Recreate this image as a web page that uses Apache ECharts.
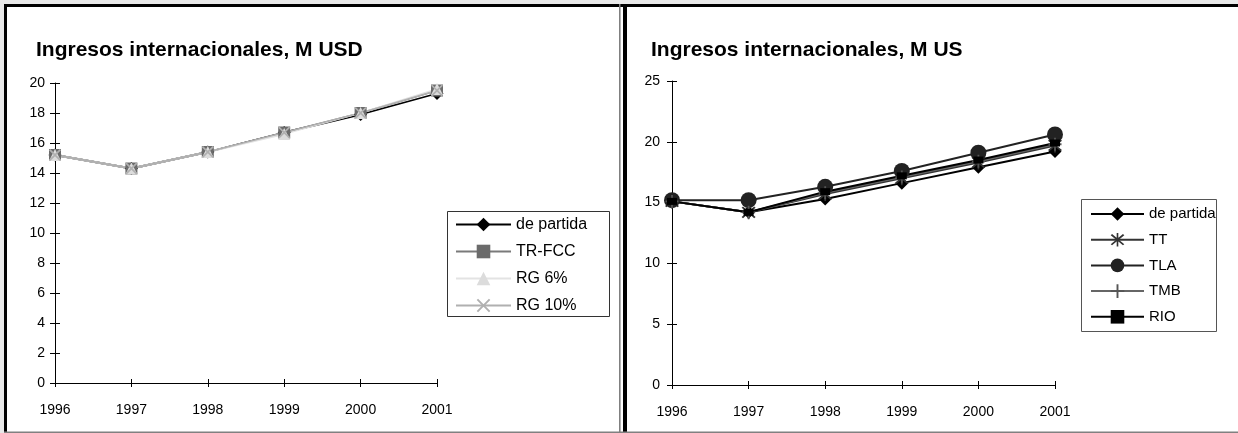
<!DOCTYPE html>
<html>
<head>
<meta charset="utf-8">
<script src="https://cdn.jsdelivr.net/npm/echarts@6/dist/echarts.min.js"></script>
<style>
  html, body { margin: 0; padding: 0; background: #e8e8e8; }
  #main { width: 1238px; height: 433px; }
</style>
</head>
<body>
<div id="main"></div>
<script>
var years = ['1996', '1997', '1998', '1999', '2000', '2001']

// izquierda
var dePartidaA = [15.2, 14.3, 15.4, 16.7, 17.9, 19.3]
var trFcc = [15.2, 14.3, 15.4, 16.7, 18.0, 19.5]
var rg6 = [15.2, 14.3, 15.4, 16.6, 18.0, 19.6]
var rg10 = [15.2, 14.3, 15.4, 16.7, 18.0, 19.5]

// derecha
var dePartidaB = [15.1, 14.2, 15.3, 16.6, 17.9, 19.2]
var tt = [15.1, 14.2, 15.7, 17.0, 18.3, 19.7]
var tla = [15.2, 15.2, 16.3, 17.6, 19.1, 20.6]
var tmb = [15.1, 14.2, 15.8, 17.1, 18.4, 19.8]
var rio = [15.1, 14.2, 15.9, 17.2, 18.5, 19.9]

var font = 'Liberation Sans, Arial, sans-serif'

var xMark = 'path://M1,0 L5,4 L9,0 L10,1 L6,5 L10,9 L9,10 L5,6 L1,10 L0,9 L4,5 L0,1 Z'
var starMark = 'path://M1,1 L5,5 L9,1 L10,2 L6,6 L10,10 L9,11 L5,7 L1,11 L0,10 L4,6 L0,2 Z M4.4,0 H5.6 V12 H4.4 Z'
var plusMark = 'path://M4.3,0 H5.7 V4.3 H10 V5.7 H5.7 V10 H4.3 V5.7 H0 V4.3 H4.3 Z'

function xAxes (grid) {
  return [
    {
      type: 'category', gridIndex: grid, data: years, boundaryGap: false, position: 'bottom',
      axisLine: { lineStyle: { color: '#000', width: 1 } },
      axisTick: { length: 4, interval: 0, lineStyle: { color: '#000' } },
      axisLabel: { interval: 0, color: '#000', fontSize: 14, fontFamily: font, margin: 20 }
    },
    {
      type: 'category', gridIndex: grid, data: years, boundaryGap: false, position: 'bottom',
      axisLine: { show: false },
      axisTick: { inside: true, length: 4, interval: 0, lineStyle: { color: '#000' } },
      axisLabel: { show: false }
    }
  ]
}

function yAxes (grid, max, step, margin) {
  return [
    {
      type: 'value', gridIndex: grid, min: 0, max: max, interval: step, position: 'left',
      splitLine: { show: false },
      axisLine: { show: true, lineStyle: { color: '#000', width: 1 } },
      axisTick: { show: true, length: 5, lineStyle: { color: '#000' } },
      axisLabel: { color: '#000', fontSize: 14, fontFamily: font, margin: margin }
    },
    {
      type: 'value', gridIndex: grid, min: 0, max: max, interval: step, position: 'left',
      splitLine: { show: false },
      axisLine: { show: false },
      axisTick: { show: true, inside: true, length: 5, lineStyle: { color: '#000' } },
      axisLabel: { show: false }
    }
  ]
}

function line (name, data, xi, color, lineColor, width, symbol, size) {
  return {
    name: name, type: 'line', data: data,
    xAxisIndex: xi, yAxisIndex: xi,
    symbol: symbol, symbolSize: size, showSymbol: true,
    lineStyle: { color: lineColor, width: width },
    itemStyle: { color: color },
    emphasis: { disabled: true }
  }
}

var mainchart = echarts.init(document.getElementById('main'))

var option = {
  animation: false,
  backgroundColor: '#e8e8e8',
  title: [
    { text: 'Ingresos internacionales, M USD', left: 36, top: 40, padding: 0,
      textStyle: { fontSize: 21, fontWeight: 'bold', color: '#000', fontFamily: font } },
    { text: 'Ingresos internacionales, M US', left: 651, top: 40, padding: 0,
      textStyle: { fontSize: 21, fontWeight: 'bold', color: '#000', fontFamily: font } }
  ],
  grid: [
    { left: 55, top: 83, width: 382, height: 300 },
    { left: 672, top: 81, width: 383, height: 304 }
  ],
  xAxis: xAxes(0).concat(xAxes(1)),
  yAxis: yAxes(0, 20, 2, 10).concat(yAxes(1, 25, 5, 12)),
  legend: [
    {
      orient: 'vertical', left: 455, top: 216.5, padding: 0,
      itemWidth: 55, itemHeight: 17, itemGap: 11,
      textStyle: { fontSize: 16, color: '#000', fontFamily: font },
      data: ['de partida', 'TR-FCC', 'RG 6%', 'RG 10%']
    },
    {
      orient: 'vertical', left: 1090, top: 206.5, padding: 0,
      itemWidth: 53, itemHeight: 17, itemGap: 10.7,
      textStyle: { fontSize: 15, color: '#000', fontFamily: font },
      data: ['de partida', 'TT', 'TLA', 'TMB', 'RIO']
    }
  ],
  graphic: [
    { type: 'rect', z: -10, shape: { x: 4, y: 4, width: 616, height: 429 }, style: { fill: '#fff' } },
    { type: 'rect', z: -10, shape: { x: 621, y: 4, width: 617, height: 429 }, style: { fill: '#fff' } },
    { type: 'rect', z: -9, shape: { x: 4, y: 4, width: 1234, height: 3 }, style: { fill: '#000' } },
    { type: 'rect', z: -9, shape: { x: 4, y: 4, width: 3, height: 429 }, style: { fill: '#000' } },
    { type: 'rect', z: -9, shape: { x: 623, y: 4, width: 4, height: 429 }, style: { fill: '#000' } },
    { type: 'rect', z: -9, shape: { x: 619, y: 4, width: 1.5, height: 429 }, style: { fill: '#808080' } },
    { type: 'rect', z: -9, shape: { x: 4, y: 431.5, width: 1234, height: 1.5 }, style: { fill: '#808080' } },
    // cajas de leyenda
    { type: 'rect', z: -8, shape: { x: 447.5, y: 211.5, width: 162, height: 105 }, style: { fill: 'none', stroke: '#333', lineWidth: 1 } },
    { type: 'rect', z: -8, shape: { x: 1081.5, y: 199.5, width: 135, height: 132 }, style: { fill: 'none', stroke: '#555', lineWidth: 1 } }
  ],
  series: [
    line('de partida', dePartidaA, 0, '#000', '#000', 1.8, 'diamond', 13),
    line('TR-FCC', trFcc, 0, '#6b6b6b', '#7a7a7a', 1.8, 'rect', 12),
    line('RG 6%', rg6, 0, '#dcdcdc', '#e3e3e3', 1.8, 'triangle', 12),
    line('RG 10%', rg10, 0, '#b0b0b0', '#b0b0b0', 1.8, xMark, 12),

    line('de partida', dePartidaB, 2, '#000', '#000', 2, 'diamond', 13),
    line('TT', tt, 2, '#333', '#333', 2, starMark, 14),
    line('TLA', tla, 2, '#222', '#222', 2, 'circle', 16),
    line('TMB', tmb, 2, '#555', '#666', 2, plusMark, 13),
    line('RIO', rio, 2, '#000', '#000', 2, 'rect', [10, 7])
  ]
}

mainchart.setOption(option)
</script>
</body>
</html>
